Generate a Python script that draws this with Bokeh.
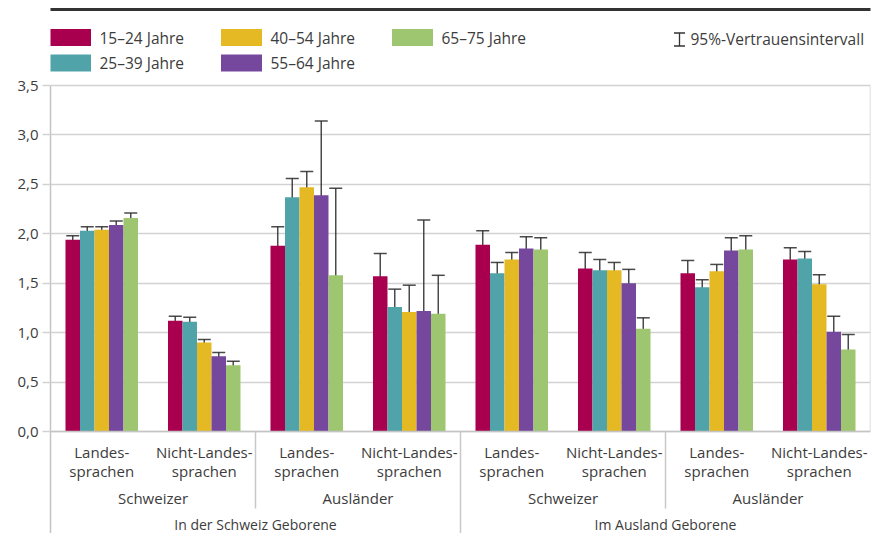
from bokeh.plotting import figure
from bokeh.models import (FactorRange, Whisker, ColumnDataSource, CustomJSTickFormatter,
                          FixedTicker, TeeHead, Label, BoxAnnotation, Arrow)
from bokeh.transform import dodge
from bokeh.embed import file_html
from bokeh.resources import INLINE

FONT = "Open Sans"
TXT = "#3c3c3c"

# ---------------- data ----------------
birth = ["In der Schweiz Geborene"] * 4 + ["Im Ausland Geborene"] * 4
nation = ["Schweizer", "Schweizer", "Ausländer", "Ausländer"] * 2
language = ["Landes-\nsprachen", "Nicht-Landes-\nsprachen"] * 4

ages = ["15–24 Jahre", "25–39 Jahre", "40–54 Jahre", "55–64 Jahre", "65–75 Jahre"]
colors = ["#A8004F", "#50A3A8", "#E5B924", "#76489D", "#9EC670"]

v15 = [1.94, 1.12, 1.88, 1.57, 1.89, 1.65, 1.60, 1.74]
v25 = [2.03, 1.11, 2.37, 1.26, 1.60, 1.63, 1.46, 1.75]
v40 = [2.04, 0.90, 2.47, 1.21, 1.74, 1.63, 1.62, 1.49]
v55 = [2.09, 0.76, 2.39, 1.22, 1.85, 1.50, 1.83, 1.01]
v65 = [2.16, 0.67, 1.58, 1.19, 1.84, 1.04, 1.84, 0.83]

lo15 = [1.90, 1.085, 1.68, 1.32, 1.74, 1.51, 1.47, 1.62]
hi15 = [1.98, 1.165, 2.07, 1.80, 2.03, 1.81, 1.73, 1.86]
lo25 = [1.99, 1.06, 2.19, 1.07, 1.49, 1.52, 1.40, 1.67]
hi25 = [2.07, 1.155, 2.56, 1.44, 1.71, 1.74, 1.535, 1.82]
lo40 = [2.00, 0.87, 2.31, 0.95, 1.66, 1.54, 1.55, 1.40]
hi40 = [2.07, 0.93, 2.63, 1.48, 1.81, 1.71, 1.69, 1.585]
lo55 = [2.04, 0.71, 1.64, 0.29, 1.72, 1.37, 1.71, 0.86]
hi55 = [2.13, 0.80, 3.14, 2.14, 1.97, 1.64, 1.96, 1.165]
lo65 = [2.10, 0.61, 0.69, 0.80, 1.72, 0.91, 1.71, 0.69]
hi65 = [2.21, 0.71, 2.46, 1.58, 1.96, 1.15, 1.98, 0.98]

y_ticks = [0, 0.5, 1.0, 1.5, 2.0, 2.5, 3.0, 3.5]
ci_label = "95%-Vertrauensintervall"

values = [v15, v25, v40, v55, v65]
lows = [lo15, lo25, lo40, lo55, lo65]
highs = [hi15, hi25, hi40, hi55, hi65]

factors = list(zip(birth, nation, language))

# ---------------- geometry (canvas pixels) ----------------
W, H = 874, 533
FL, FR = 50, 870          # plot area left / right
AT, AB = 85, 431          # pixel rows of 3.5 and 0.0
YMAX = 3.5
NCAT = len(factors)
PPU = (AB - AT) / YMAX    # pixels per y unit


def X(px):
    return (px - FL) / (FR - FL) * NCAT


def Y(py):
    return (AB - py) / PPU


x_range = FactorRange(*factors, factor_padding=0, subgroup_padding=0,
                      group_padding=0, range_padding=0)
p = figure(width=W, height=H, x_range=x_range, y_range=(Y(H), Y(0)),
           toolbar_location=None, output_backend="svg",
           min_border_left=FL, min_border_right=W - FR, min_border_top=0,
           min_border_bottom=0)

data = dict(x=factors)
for i in range(5):
    data[f"v{i}"] = values[i]
    data[f"lo{i}"] = lows[i]
    data[f"hi{i}"] = highs[i]
src = ColumnDataSource(data)

bw = 0.1415
offsets = [-2 * bw, -bw, 0, bw, 2 * bw]
for i in range(5):
    p.vbar(x=dodge("x", offsets[i], range=p.x_range), top=f"v{i}", width=bw,
           source=src, fill_color=colors[i], line_color=None)
EB = "#2a2a2a"
for i in range(5):
    w = Whisker(source=src, base=dodge("x", offsets[i], range=p.x_range),
                lower=f"lo{i}", upper=f"hi{i}", line_color=EB, line_alpha=0.85,
                line_width=1.5,
                upper_head=TeeHead(size=13, line_color=EB, line_width=1.5, line_alpha=0.85),
                lower_head=TeeHead(size=13, line_color=EB, line_width=1.5, line_alpha=0.85))
    p.add_layout(w)

GRID = "#d2d2d2"
AX = "#c4c4c4"
p.xgrid.grid_line_color = None
p.ygrid.grid_line_color = GRID
p.ygrid.grid_line_width = 1.5
p.outline_line_color = None

p.yaxis.ticker = FixedTicker(ticks=y_ticks)
p.yaxis.bounds = (Y(H), YMAX)
p.yaxis.formatter = CustomJSTickFormatter(code="return tick.toFixed(1).replace('.', ',');")
p.yaxis.axis_line_color = AX
p.yaxis.axis_line_width = 1.5
p.yaxis.major_tick_line_color = GRID
p.yaxis.major_tick_line_width = 1.5
p.yaxis.major_tick_out = 8
p.yaxis.major_tick_in = 0
p.yaxis.minor_tick_line_color = None
p.yaxis.major_label_standoff = 4
p.yaxis.major_label_text_font = FONT
p.yaxis.major_label_text_font_size = "15px"
p.yaxis.major_label_text_color = TXT

xa = p.xaxis[0]
xa.fixed_location = 0
xa.axis_line_color = AX
xa.axis_line_width = 1.5
xa.major_tick_line_color = None
xa.major_label_standoff = 4
xa.major_label_text_font = FONT
xa.major_label_text_font_size = "15px"
xa.major_label_text_color = TXT
xa.major_label_text_line_height = 0.95
xa.group_text_font = FONT
xa.group_text_font_size = "14px"
xa.group_text_color = TXT
xa.group_text_font_style = "normal"
xa.subgroup_text_font = FONT
xa.subgroup_text_font_size = "15px"
xa.subgroup_text_color = TXT
xa.subgroup_text_font_style = "normal"
xa.separator_line_color = None

# right border of the plot area and group separators below the axis
SEP = "#c8c8c8"
p.add_layout(Arrow(x_start=NCAT, y_start=0, x_end=NCAT, y_end=YMAX, end=None,
                   line_color=GRID, line_width=1.5))
for bx, by in [(2, 508), (4, H), (6, 508)]:
    p.add_layout(Arrow(x_start=bx, y_start=0, x_end=bx, y_end=Y(by), end=None,
                       line_color=SEP, line_width=1.5))

# ---------------- legend (above the plot area) ----------------
p.add_layout(Arrow(x_start=X(11), y_start=Y(9), x_end=X(872), y_end=Y(9), end=None,
                   line_color="#333333", line_width=3))

col_left = [49.5, 220.5, 391.5]
row_top = [28.5, 54]
for i, a in enumerate(ages):
    c, r = i // 2, i % 2
    l, t = col_left[c], row_top[r]
    p.add_layout(BoxAnnotation(left=X(l), right=X(l + 41), top=Y(t), bottom=Y(t + 17),
                               fill_color=colors[i], fill_alpha=1.0, line_color=None))
    p.add_layout(Label(x=X(l + 49.5), y=Y(t + 8.5), text=a, text_font=FONT,
                       text_font_size="15.5px", text_baseline="middle", text_color=TXT))

cx = 679
for xs, ys, xe, ye in [(cx, 32.5, cx, 45.5), (cx - 5.5, 32.5, cx + 5.5, 32.5),
                       (cx - 5.5, 45.5, cx + 5.5, 45.5)]:
    p.add_layout(Arrow(x_start=X(xs), y_start=Y(ys), x_end=X(xe), y_end=Y(ye), end=None,
                       line_color="#333333", line_width=1.3))
p.add_layout(Label(x=X(690), y=Y(38.5), text=ci_label, text_font=FONT,
                   text_font_size="15.5px", text_baseline="middle", text_color=TXT))

open("out.html", "w").write(file_html(p, INLINE))
